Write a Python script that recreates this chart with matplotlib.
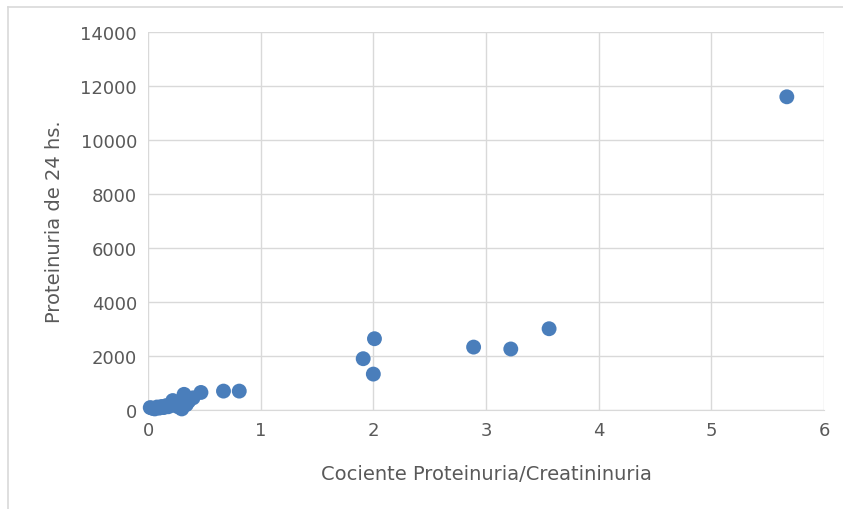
import matplotlib.pyplot as plt
from matplotlib.lines import Line2D

# Cociente proteinuria/creatininuria vs proteinuria de 24 hs.
cociente = [0.02, 0.04, 0.06, 0.08, 0.10, 0.12, 0.14, 0.16, 0.18, 0.20,
            0.22, 0.25, 0.28, 0.30, 0.32, 0.34, 0.36, 0.40, 0.47, 0.67,
            0.81, 1.91, 2.00, 2.01, 2.89, 3.22, 3.56, 5.67]
proteinuria = [90, 60, 40, 110, 70, 130, 90, 160, 120, 200,
               350, 150, 100, 40, 580, 200, 320, 450, 650, 700,
               700, 1900, 1330, 2640, 2330, 2260, 3010, 11600]

x_ticks = [0, 1, 2, 3, 4, 5, 6]
y_ticks = [0, 2000, 4000, 6000, 8000, 10000, 12000, 14000]

fig = plt.figure(figsize=(8.43, 5.10), dpi=100)
ax = fig.add_axes([148 / 843, 1 - 411 / 510, 676 / 843, 378 / 510])

ax.scatter(cociente, proteinuria, s=115, color='#4A7EBB', zorder=3,
           edgecolors='none', clip_on=False)

ax.set_xlim(0, 6)
ax.set_ylim(0, 14000)
ax.set_xticks(x_ticks)
ax.set_yticks(y_ticks)
ax.grid(True, color='#D9D9D9', linewidth=1)
for side in ['top', 'right', 'left']:
    ax.spines[side].set_visible(False)
ax.spines['bottom'].set_color('#D9D9D9')
ax.tick_params(length=0, labelsize=13, labelcolor='#595959', pad=8)

ax.set_xlabel('Cociente Proteinuria/Creatininuria', fontsize=14,
              color='#595959', labelpad=18)
ax.set_ylabel('Proteinuria de 24 hs.', fontsize=14, color='#595959',
              labelpad=12)

# chart frame
fig.add_artist(Line2D([8 / 843, 8 / 843], [0, 1 - 8 / 510],
                      color='#D9D9D9', linewidth=1.2))
fig.add_artist(Line2D([8 / 843, 1], [1 - 8 / 510, 1 - 8 / 510],
                      color='#D9D9D9', linewidth=1.2))

fig.savefig('out.png', dpi=100)
